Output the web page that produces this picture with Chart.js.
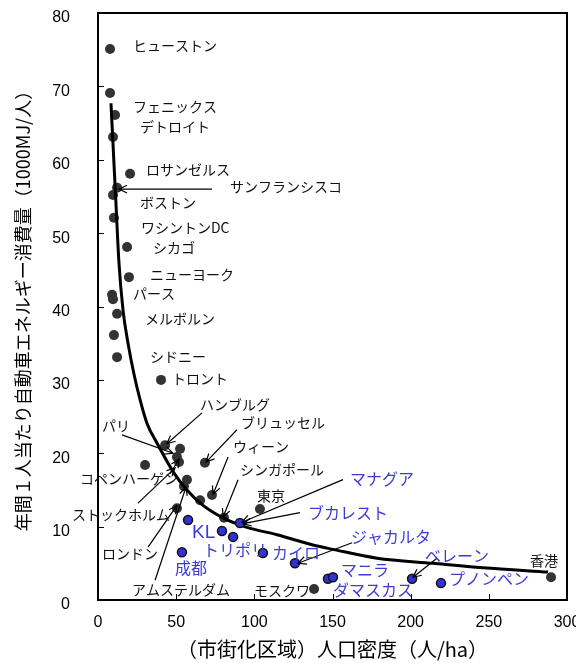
<!DOCTYPE html>
<html>
<head>
<meta charset="utf-8">
<script src="https://cdn.jsdelivr.net/npm/chart.js@4.4.0/dist/chart.umd.min.js"></script>
<style>
  body { margin: 0; background: #fff; }
  canvas { display: block; }
</style>
</head>
<body>
<canvas id="densityChart" width="576" height="663"></canvas>
<script>
// 先進国の都市 (x: 人口密度 人/ha, y: 1000MJ/人)
const devX = [7.7, 7.7, 10.9, 9.6, 20.5, 12.2, 9.6, 10.2, 18.6, 19.8, 9.0, 9.6, 12.2, 10.2, 12.2, 40.3,
              42.9, 52.5, 50.5, 51.8, 30.1, 68.4, 72.9, 56.9, 55.0, 65.3, 50.5, 80.6, 103.6, 138.2, 289.8];
const devY = [75.1, 69.1, 66.1, 63.1, 58.1, 56.2, 55.2, 52.1, 48.1, 44.0, 41.6, 41.0, 39.0, 36.1, 33.1, 30.0,
              21.1, 20.6, 19.5, 18.8, 18.4, 18.7, 14.3, 16.4, 15.5, 13.6, 12.5, 11.2, 12.4, 1.5, 3.1];

// 途上国の都市
const asiaX = [57.6, 79.3, 86.4, 90.8, 53.7, 105.5, 126.0, 147.1, 150.3, 200.9, 219.4];
const asiaY = [10.9, 9.4, 8.6, 10.5, 6.5, 6.4, 5.0, 2.9, 3.1, 2.9, 2.3];

// 近似曲線
const curveX = [8.3, 9.8, 11.5, 13.4, 16.0, 19.2, 23.0, 26.9, 31.3, 37.7, 48.0, 56.9, 67.2, 80.0, 95.3,
                114.5, 137.5, 150.3, 178.5, 214.3, 246.3, 287.9];
const curveY = [67.7, 61.3, 54.0, 46.0, 39.5, 35.0, 30.8, 27.3, 24.1, 21.4, 17.5, 15.0, 12.9, 11.2, 9.9,
                8.9, 7.5, 6.9, 5.7, 5.0, 4.4, 3.8];

const xTickValues = [0, 50, 100, 150, 200, 250, 300];
const yTickValues = [0, 10, 20, 30, 40, 50, 60, 70, 80];

const BLACK_TEXT = '#111';
const BLUE_TEXT = '#3c3cd2';

// 都市名ラベル [文字, x, y, 色, 大きさ]
const cityLabels = [
  ['ヒューストン', 22.4, 75.6, BLACK_TEXT, 14],
  ['フェニックス', 22.4, 67.2, BLACK_TEXT, 14],
  ['デトロイト', 26.9, 64.5, BLACK_TEXT, 14],
  ['ロサンゼルス', 30.7, 58.6, BLACK_TEXT, 14],
  ['サンフランシスコ', 84.4, 56.3, BLACK_TEXT, 14],
  ['ボストン', 26.9, 54.1, BLACK_TEXT, 14],
  ['ワシントンDC', 27.5, 50.8, BLACK_TEXT, 14],
  ['シカゴ', 35.2, 48.0, BLACK_TEXT, 14],
  ['ニューヨーク', 33.3, 44.3, BLACK_TEXT, 14],
  ['パース', 22.4, 41.8, BLACK_TEXT, 14],
  ['メルボルン', 30.1, 38.3, BLACK_TEXT, 14],
  ['シドニー', 33.3, 33.1, BLACK_TEXT, 14],
  ['トロント', 47.3, 30.1, BLACK_TEXT, 14],
  ['ハンブルグ', 65.2, 26.6, BLACK_TEXT, 14],
  ['ブリュッセル', 91.5, 24.1, BLACK_TEXT, 14],
  ['パリ', 2.6, 23.8, BLACK_TEXT, 14],
  ['ウィーン', 86.4, 20.9, BLACK_TEXT, 14],
  ['シンガポール', 90.8, 17.7, BLACK_TEXT, 14],
  ['東京', 101.7, 14.2, BLACK_TEXT, 14],
  ['コペンハーゲン', -11.5, 16.6, BLACK_TEXT, 14],
  ['ストックホルム', -16.6, 11.6, BLACK_TEXT, 14],
  ['ロンドン', 2.6, 6.3, BLACK_TEXT, 14],
  ['アムステルダム', 21.7, 1.4, BLACK_TEXT, 14],
  ['モスクワ', 99.8, 1.3, BLACK_TEXT, 14],
  ['香港', 276.3, 5.3, BLACK_TEXT, 14],
  ['マナグア', 161.2, 16.5, BLUE_TEXT, 16],
  ['ブカレスト', 134.3, 11.9, BLUE_TEXT, 16],
  ['ジャカルタ', 161.8, 8.6, BLUE_TEXT, 16],
  ['KL', 60.1, 9.1, BLUE_TEXT, 19],
  ['トリポリ', 67.2, 6.8, BLUE_TEXT, 16],
  ['カイロ', 111.3, 6.4, BLUE_TEXT, 16],
  ['成都', 49.3, 4.4, BLUE_TEXT, 16],
  ['マニラ', 155.4, 4.1, BLUE_TEXT, 16],
  ['ダマスカス', 150.3, 1.4, BLUE_TEXT, 16],
  ['ベレーン', 209.2, 6.0, BLUE_TEXT, 16],
  ['プノンペン', 224.5, 2.9, BLUE_TEXT, 16]
];

// 引き出し線 [x1, y1, x2(矢印側), y2]
const leaderLines = [
  [72.9, 56.0, 13.4, 56.0],
  [66.5, 25.5, 44.1, 21.3],
  [88.9, 23.2, 69.1, 18.8],
  [15.4, 22.5, 48.0, 20.0],
  [83.2, 19.5, 73.6, 14.4],
  [89.6, 16.4, 80.0, 11.3],
  [46.1, 17.2, 51.8, 19.2],
  [25.6, 13.2, 49.3, 18.0],
  [32.0, 7.2, 50.5, 12.9],
  [36.5, 2.7, 56.3, 15.4],
  [156.7, 16.4, 92.1, 10.6],
  [129.2, 11.9, 92.8, 10.4],
  [162.5, 7.8, 127.9, 5.0],
  [216.8, 5.7, 201.5, 3.1]
];

const annotationPlugin = {
  id: 'annotations',
  beforeDatasetsDraw(chart) {
    const { ctx, chartArea: a, scales: { x, y } } = chart;
    ctx.save();
    ctx.strokeStyle = '#000';
    ctx.lineWidth = 2;
    ctx.strokeRect(a.left, a.top, a.right - a.left, a.bottom - a.top);
    // 内向きの目盛り
    ctx.lineWidth = 1;
    yTickValues.slice(1, -1).forEach(v => {
      const py = Math.round(y.getPixelForValue(v)) + 0.5;
      ctx.beginPath(); ctx.moveTo(a.left, py); ctx.lineTo(a.left + 6, py); ctx.stroke();
    });
    xTickValues.slice(1, -1).forEach(v => {
      const px = Math.round(x.getPixelForValue(v)) + 0.5;
      ctx.beginPath(); ctx.moveTo(px, a.bottom); ctx.lineTo(px, a.bottom - 6); ctx.stroke();
    });
    ctx.restore();
  },
  afterDatasetsDraw(chart) {
    const { ctx, scales: { x, y } } = chart;
    ctx.save();
    ctx.strokeStyle = '#000';
    ctx.lineWidth = 1.2;
    leaderLines.forEach(([x1, y1, x2, y2]) => {
      const p1 = [x.getPixelForValue(x1), y.getPixelForValue(y1)];
      const p2 = [x.getPixelForValue(x2), y.getPixelForValue(y2)];
      const ang = Math.atan2(p2[1] - p1[1], p2[0] - p1[0]);
      ctx.beginPath();
      ctx.moveTo(p1[0], p1[1]);
      ctx.lineTo(p2[0], p2[1]);
      ctx.moveTo(p2[0] - 9 * Math.cos(ang - 0.45), p2[1] - 9 * Math.sin(ang - 0.45));
      ctx.lineTo(p2[0], p2[1]);
      ctx.lineTo(p2[0] - 9 * Math.cos(ang + 0.45), p2[1] - 9 * Math.sin(ang + 0.45));
      ctx.stroke();
    });
    ctx.textAlign = 'left';
    ctx.textBaseline = 'middle';
    cityLabels.forEach(([text, lx, ly, color, size]) => {
      ctx.font = size + 'px "Noto Sans CJK JP", sans-serif';
      if (text === 'KL') ctx.font = size + 'px "Liberation Sans", Arial, sans-serif';
      ctx.fillStyle = color;
      ctx.fillText(text, x.getPixelForValue(lx), y.getPixelForValue(ly));
    });
    ctx.restore();
  }
};

const ctx = document.getElementById('densityChart');

new Chart(ctx, {
  type: 'scatter',
  data: {
    datasets: [
      {
        label: '先進国',
        data: devX.map((v, i) => ({ x: v, y: devY[i] })),
        backgroundColor: '#333333',
        borderColor: '#333333',
        pointRadius: 5,
        borderWidth: 0,
        order: 3
      },
      {
        label: '近似曲線',
        data: curveX.map((v, i) => ({ x: v, y: curveY[i] })),
        showLine: true,
        borderColor: '#000',
        borderWidth: 3,
        pointRadius: 0,
        cubicInterpolationMode: 'monotone',
        order: 2
      },
      {
        label: '途上国',
        data: asiaX.map((v, i) => ({ x: v, y: asiaY[i] })),
        backgroundColor: '#3232d4',
        borderColor: '#111',
        borderWidth: 1.5,
        pointRadius: 4.5,
        order: 1
      }
    ]
  },
  options: {
    responsive: false,
    animation: false,
    events: [],
    layout: { padding: { top: 13, right: 9, left: 0, bottom: 0 } },
    plugins: {
      legend: { display: false },
      tooltip: { enabled: false }
    },
    scales: {
      x: {
        min: 0,
        max: 300,
        grid: { display: false, drawTicks: false },
        border: { display: false },
        afterBuildTicks: s => { s.ticks = xTickValues.map(v => ({ value: v })); },
        afterFit: s => { s.height = 63; s.paddingLeft = 0; s.paddingRight = 0; },
        ticks: {
          padding: 13,
          color: '#000',
          maxRotation: 0,
          font: { family: '"Liberation Sans", Arial, sans-serif', size: 16 }
        },
        title: {
          display: true,
          text: '（市街化区域）人口密度（人/ha）',
          color: '#000',
          padding: { top: 0, bottom: 2 },
          font: { family: '"Noto Sans CJK JP", sans-serif', size: 20 }
        }
      },
      y: {
        min: 0,
        max: 80,
        grid: { display: false, drawTicks: false },
        border: { display: false },
        afterBuildTicks: s => { s.ticks = yTickValues.map(v => ({ value: v })); },
        afterFit: s => { s.width = 98; s.paddingTop = 0; s.paddingBottom = 0; },
        ticks: {
          padding: 28,
          labelOffset: 5,
          color: '#000',
          font: { family: '"Liberation Sans", Arial, sans-serif', size: 16 }
        },
        title: {
          display: true,
          text: '年間１人当たり自動車エネルギー消費量（1000MJ/人）',
          color: '#000',
          padding: { top: 12, bottom: 0 },
          font: { family: '"Noto Sans CJK JP", sans-serif', size: 18 }
        }
      }
    }
  },
  plugins: [annotationPlugin]
});
</script>
</body>
</html>
